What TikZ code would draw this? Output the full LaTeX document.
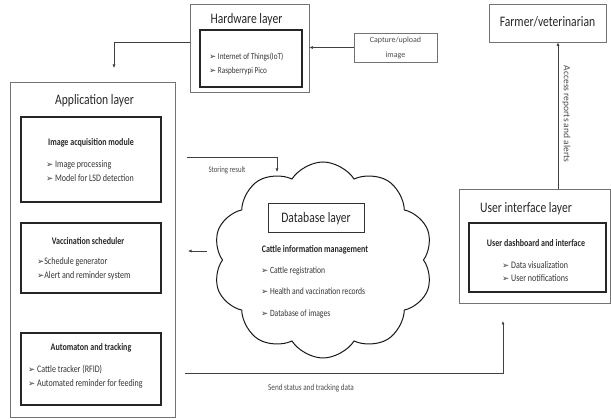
\documentclass[tikz,border=0pt]{standalone}
\usepackage{fontspec}
\setmainfont{Carlito}[FakeStretch=0.8]
\newfontfamily\widefont{Carlito}
\newfontfamily\symfont{DejaVu Sans}
\usetikzlibrary{arrows.meta,shapes.symbols}
\newcommand{\bul}{{\symfont\fontsize{8.5}{8.5}\selectfont\char"27A2}}

\tikzset{
  layer/.style={draw=black!55, line width=0.7pt},
  module/.style={draw=black!85, line width=1.1pt},
  arr/.style={-{Latex[length=3.5pt,width=3pt]}, draw=black!75, line width=0.6pt},
  ttl/.style={text=black!85, font=\fontsize{14.5}{16}\selectfont},
  head/.style={text=black!85, font=\bfseries\fontsize{10}{12}\selectfont},
  items/.style={align=left, anchor=west, inner sep=0pt, text=black!80, font=\fontsize{10}{14}\selectfont},
  small/.style={text=black!70, font=\fontsize{8.5}{10}\selectfont}
}

\begin{document}
\begin{tikzpicture}[x=1pt,y=-1pt]
\useasboundingbox (0,0) rectangle (611,419);

\node[layer, minimum width=165pt, minimum height=335pt] (app) at (92.5,249.5) {};
\node[ttl] (apptitle) at (94.5,101) {Application layer};
\node[module, minimum width=140pt, minimum height=85pt] (acq) at (91,159.5) {};
\node[head] (acqhead) at (91,143) {Image acquisition module};
\node[items] (acqitems) at (46,171) {\bul\ Image processing\\ \bul\ Model for LSD detection};
\node[module, minimum width=140pt, minimum height=70pt] (vacc) at (91,258) {};
\node[head] (vacchead) at (88,241) {Vaccination scheduler};
\node[items] (vaccitems) at (37,269) {\bul Schedule generator\\ \bul Alert and reminder system};
\node[module, minimum width=140pt, minimum height=72pt] (auto) at (91,369) {};
\node[head] (autohead) at (91,348) {Automaton and tracking};
\node[items] (autoitems) at (28,376.5) {\bul\ Cattle tracker (RFID)\\ \bul\ Automated reminder for feeding};

\node[layer, minimum width=119pt, minimum height=88pt] (hw) at (249.5,48) {};
\node[ttl] (hwtitle) at (246.5,20) {Hardware layer};
\node[module, minimum width=102pt, minimum height=57pt] (hwin) at (251,58.5) {};
\node[items, font=\fontsize{9}{14}\selectfont] (hwitems) at (209,64) {\bul\ Internet of Things(IoT)\\ \bul\ Raspberrypi Pico};

\node[layer, align=center, minimum width=83pt, minimum height=29pt, inner sep=1pt, text=black!70, font=\widefont\fontsize{8}{15}\selectfont] (cap) at (395.5,47.5) {Capture/upload\\ image};

\node[layer, minimum width=117pt, minimum height=38pt] (farm) at (547.5,23) {};
\node[ttl] (farmtitle) at (547.5,22) {Farmer/veterinarian};

\node[layer, minimum width=151pt, minimum height=114pt] (ui) at (534.5,246) {};
\node[ttl] (uititle) at (526,209) {User interface layer};
\node[module, minimum width=137pt, minimum height=69pt] (uiin) at (537.5,257.5) {};
\node[head] (uihead) at (536,243) {User dashboard and interface};
\node[items, font=\fontsize{10}{12.5}\selectfont] (uiitems) at (502,271.5) {\bul\ Data visualization\\ \bul\ User notifications};

\node[cloud, draw=black!90, line width=1pt, cloud puffs=10, cloud puff arc=115, aspect=1.1, minimum width=220pt, minimum height=196pt] (cloud) at (323,260) {};
\node[layer, draw=black!80, line width=1pt, minimum width=96pt, minimum height=29pt, ttl] (db) at (316,218.5) {Database layer};
\node[head] (dbhead) at (315,250) {Cattle information management};
\node[items, font=\fontsize{9.5}{21.5}\selectfont] (dbitems) at (261,292.5) {\bul\ Cattle registration\\ \bul\ Health and vaccination records\\ \bul\ Database of images};

\coordinate (apptop) at (114,68);
\coordinate (storeA) at (187,157);
\coordinate (storeB) at (277,172);
\coordinate (dbout) at (207,251);
\coordinate (dbin) at (188,251);
\coordinate (sendA) at (185,373);
\coordinate (sendB) at (503,321);
\coordinate (acc) at (558,189);

\draw[arr] (cap.west) -- (cap.west -| hw.east);
\draw[arr] ([yshift=6pt]hw.west) -| (apptop);
\draw[arr] (storeA) -| (storeB);
\node[small] (storelbl) at (227,170) {Storing result};
\draw[arr] (dbout) -- (dbin);
\draw[arr] (sendA) -| (sendB);
\node[small, font=\fontsize{9}{10}\selectfont] (sendlbl) at (311,388) {Send status and tracking data};
\draw[arr] (acc) -- (acc |- farm.south);
\node[small, rotate=-90, font=\widefont\fontsize{9.5}{10}\selectfont] (acclbl) at (566.5,114) {Access reports and alerts};
\end{tikzpicture}
\end{document}
